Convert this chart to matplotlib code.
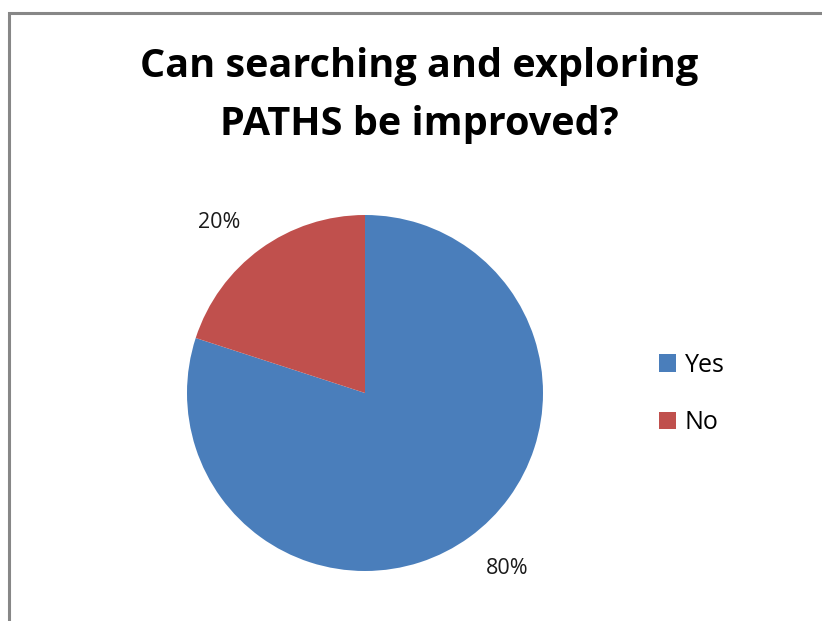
import matplotlib.pyplot as plt
from matplotlib.patches import Rectangle

answers = ['Yes', 'No']
shares = [80, 20]
colors = ['#4A7EBB', '#C0504D']

W, H = 822, 621
fig = plt.figure(figsize=(W / 100, H / 100), dpi=100)
fig.patch.set_facecolor('white')

# chart frame (only left and top edges fall inside the image)
fig.patches.append(Rectangle((9 / W, -0.05), 1.1, 1 - 13 / H + 0.05,
                             transform=fig.transFigure, fill=False,
                             edgecolor='#878787', linewidth=2.2))

fig.text(419 / W, 1 - 66 / H, 'Can searching and exploring', ha='center', va='center',
         fontsize=28.5, fontweight='bold', family='Open Sans')
fig.text(419 / W, 1 - 124 / H, 'PATHS be improved?', ha='center', va='center',
         fontsize=28.5, fontweight='bold', family='Open Sans')

cx, cy, r = 365, 393, 178
ax = fig.add_axes([(cx - r) / W, (H - cy - r) / H, 2 * r / W, 2 * r / H])
wedges, texts, autotexts = ax.pie(shares, colors=colors, startangle=90, counterclock=False,
                                  autopct='%d%%', pctdistance=1.22, radius=1,
                                  wedgeprops=dict(linewidth=0))
for t in autotexts:
    t.set_fontsize(15.5)
    t.set_family('Open Sans')
    t.set_color('#1a1a1a')
# small nudges to the outside labels
for t, (dx, dy) in zip(autotexts, [(0.08, 0.0), (-0.1, -0.03)]):
    x, y = t.get_position()
    t.set_position((x + dx, y + dy))
ax.set_xlim(-1, 1)
ax.set_ylim(-1, 1)
ax.set_aspect('equal')
ax.axis('off')

fig.legend(wedges, answers, loc='center left', bbox_to_anchor=(636 / W, 1 - 394 / H),
           frameon=False, prop={'family': 'Open Sans', 'size': 18},
           handlelength=0.7, handleheight=0.7, handletextpad=0.35, labelspacing=1.3)

fig.savefig('out.png', dpi=100)
